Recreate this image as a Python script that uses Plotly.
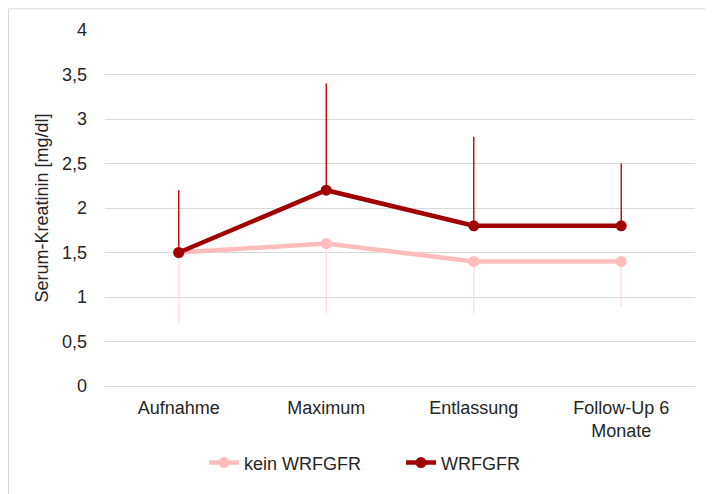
import plotly.graph_objects as go

categories = ["Aufnahme", "Maximum", "Entlassung", "Follow-Up 6<br>Monate"]
kein_mean = [1.5, 1.6, 1.4, 1.4]
kein_lower = [0.7, 0.8, 0.8, 0.9]
wrf_mean = [1.5, 2.2, 1.8, 1.8]
wrf_upper = [2.2, 3.4, 2.8, 2.5]
y_ticks = [0, 0.5, 1, 1.5, 2, 2.5, 3, 3.5, 4]

kein_minus = [m - l for m, l in zip(kein_mean, kein_lower)]
wrf_plus = [u - m for m, u in zip(wrf_mean, wrf_upper)]

fig = go.Figure()
fig.add_trace(go.Scatter(
    x=categories, y=kein_mean, name="kein WRFGFR", mode="lines+markers",
    line=dict(color="#FFBDBD", width=4.5), marker=dict(size=11, color="#FFBDBD"),
    error_y=dict(type="data", symmetric=False, array=[0]*4, arrayminus=kein_minus,
                 color="#FFE0E0", thickness=1.5, width=0),
))
fig.add_trace(go.Scatter(
    x=categories, y=wrf_mean, name="WRFGFR", mode="lines+markers",
    line=dict(color="#A00000", width=4.5), marker=dict(size=11, color="#A00000"),
    error_y=dict(type="data", symmetric=False, array=wrf_plus, arrayminus=[0]*4,
                 color="#CC1010", thickness=1.5, width=0),
))

font = dict(family="Liberation Sans, Arial, sans-serif", size=18, color="#262626")
L, R, T, B = 97, 18, 22, 103
W, H = 705, 486
pw, ph = W - L - R, H - T - B
fig.update_layout(
    width=W, height=H,
    margin=dict(l=L, r=R, t=T, b=B),
    paper_bgcolor="white", plot_bgcolor="white",
    separators=",.",
    font=font,
    showlegend=True,
    legend=dict(orientation="h", x=(196 - L) / pw, xanchor="left",
                y=(ph + T - 461) / ph, yanchor="middle",
                font=font, traceorder="normal", entrywidth=152, entrywidthmode="pixels"),
    xaxis=dict(type="category", range=[-0.5, 3.5], showgrid=False, automargin=False,
               showline=True, linecolor="#D9D9D9", linewidth=1,
               ticks="", tickfont=font, ticklabelstandoff=5, fixedrange=True),
    yaxis=dict(range=[0, 4], tickvals=y_ticks, showgrid=True, gridcolor="#D9D9D9",
               gridwidth=1, zeroline=False, showline=False, ticks="", automargin=False,
               ticklabelstandoff=17, tickfont=font,
               title=dict(text="Serum-Kreatinin [mg/dl]", font=font, standoff=8)),
    shapes=[dict(type="rect", xref="paper", yref="paper",
                 x0=(0.5 - L) / pw, x1=1.2, y0=-0.5, y1=(ph + T - 0.5) / ph,
                 line=dict(color="#D9D9D9", width=1), layer="below")],
)

fig.write_html("out.html")
